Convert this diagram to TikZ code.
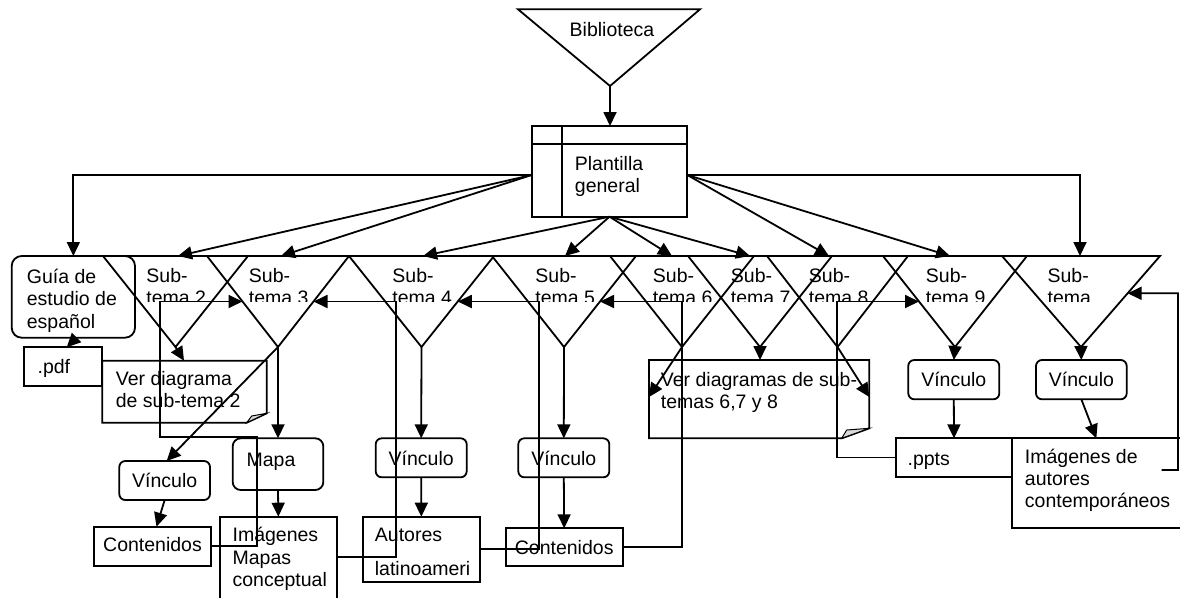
\documentclass[tikz,border=0pt]{standalone}
\usepackage{fontspec}
\setmainfont{Liberation Sans}
\usetikzlibrary{arrows.meta,calc}

% inverted triangle for a sub-topic: name, left corner x, apex x, right corner x
\newcommand\subtri[4]{%
  \coordinate (#1l) at (#2,256);
  \coordinate (#1a) at (#3,347);
  \coordinate (#1r) at (#4,256);
  \draw (#1l) -- (#1r) -- (#1a) -- cycle;
}

\begin{document}
\begin{tikzpicture}[x=1pt,y=-1pt,
  line width=1.8pt,
  arr/.style={-{Triangle[length=14pt,width=13pt]}},
  plainbox/.style={draw, rectangle, anchor=north west, inner sep=0pt, outer sep=0pt},
  hidbox/.style={rectangle, anchor=north west, inner sep=0pt, outer sep=0pt},
  rbox/.style={plainbox, rounded corners=6pt},
  txt/.style={font=\fontsize{19.5}{22}\selectfont, inner sep=0pt, anchor=base west},
  ctxt/.style={txt, anchor=base},
]
\useasboundingbox (0,0) rectangle (1180,597);
\clip (0,0) rectangle (1180,597);
\fill[white] (0,0) rectangle (1180,597);

% ---------- library and template ----------
\coordinate (bibl) at (518,9.3);
\coordinate (bibr) at (700,9.3);
\coordinate (biba) at (610,86);
\draw (bibl) -- (bibr) -- (biba) -- cycle;
\node[ctxt] (bibtxt) at (612,36) {Biblioteca};

\node[plainbox, minimum width=155.6pt, minimum height=90.7pt] (plant) at (531.7,126) {};
\draw ([yshift=-18pt]plant.north west) -- ([yshift=-18pt]plant.north east);
\draw ([xshift=30.6pt]plant.north west) -- ([xshift=30.6pt]plant.south west);
\node[txt] (planta) at (574,170) {Plantilla};
\node[txt] (plantb) at (574,192) {general};
\draw[arr] (biba) -- (biba |- plant.north);

\coordinate (pL) at (531.7,175);
\coordinate (pR) at (687.3,175);

% ---------- study guide ----------
\node[plainbox, rounded corners=10pt, minimum width=123.3pt, minimum height=81.7pt] (guia) at (11.7,256) {};
\node[txt] (guiaa) at (26,283) {Guía de};
\node[txt] (guiab) at (26,305.5) {estudio de};
\node[txt] (guiac) at (26,328) {español};

% ---------- sub-topic triangles ----------
\subtri{t2}{103}{175.5}{248}
\subtri{t3}{207}{278}{349}
\subtri{t4}{349}{421.5}{494}
\subtri{t5}{492}{564}{636}
\subtri{t6}{610}{682}{754}
\subtri{t7}{688}{760}{832}
\subtri{t8}{767}{837.5}{908}
\subtri{t9}{883}{955}{1027}
\subtri{t10}{1002}{1081}{1160}

\begin{scope}
  \clip (0,0) rectangle (1180,301.5);
  \node[txt] (s2a) at (145.5,282) {Sub-};  \node[txt] (s2b) at (145.5,304) {tema 2};
  \node[txt] (s3a) at (248,282) {Sub-};    \node[txt] (s3b) at (248,304) {tema 3};
  \node[txt] (s4a) at (391.5,282) {Sub-};  \node[txt] (s4b) at (391.5,304) {tema 4};
  \node[txt] (s5a) at (534.5,282) {Sub-};  \node[txt] (s5b) at (534.5,304) {tema 5};
  \node[txt] (s6a) at (652,282) {Sub-};    \node[txt] (s6b) at (652,304) {tema 6};
  \node[txt] (s7a) at (730,282) {Sub-};    \node[txt] (s7b) at (730,304) {tema 7};
  \node[txt] (s8a) at (808,282) {Sub-};    \node[txt] (s8b) at (808,304) {tema 8};
  \node[txt] (s9a) at (925,282) {Sub-};    \node[txt] (s9b) at (925,304) {tema 9};
  \node[txt] (s10a) at (1046.7,282) {Sub-}; \node[txt] (s10b) at (1046.7,304) {tema};
\end{scope}

% entry points on the common top edge
\coordinate (in2) at (178,256);
\coordinate (in3) at (281,256);
\coordinate (in4) at (423,256);
\coordinate (in5) at (565,256);
\coordinate (in6) at (672,256);
\coordinate (in7) at (750,256);
\coordinate (in8) at (829,256);
\coordinate (in9) at (950,256);
\coordinate (in10) at (1080,256);

% template fan-out
\draw[arr] (pL) -| (guia.north);
\draw[arr] (pL) -- (in2);
\draw[arr] (pL) -- (in3);
\draw[arr] (plant.south) -- (in4);
\draw[arr] (plant.south) -- (in5);
\draw[arr] (plant.south) -- (in6);
\draw[arr] (plant.south) -- (in7);
\draw[arr] (pR) -- (in8);
\draw[arr] (pR) -- (in9);
\draw[arr] (pR) -| (in10);

% ---------- boxes below ----------
\node[plainbox, minimum width=78pt, minimum height=38.4pt] (pdf) at (24.3,347.3) {};
\node[txt] (pdftxt) at (36.7,373.5) {.pdf};

\node[hidbox, minimum width=164.4pt, minimum height=62pt] (ver2) at (102.3,360.7) {};
\draw (ver2.north west) -- (ver2.north east) -- ([yshift=9.4pt]ver2.south east)
  -- ([xshift=-20pt]ver2.south east) -- (ver2.south west) -- cycle;
\filldraw[fill=gray!30, line width=1pt] ([xshift=-20pt]ver2.south east)
  -- ([xshift=-15pt,yshift=6.7pt]ver2.south east) -- ([yshift=9.4pt]ver2.south east) -- cycle;
\node[txt] (ver2a) at (115,385) {Ver diagrama};
\node[txt] (ver2b) at (115,407) {de sub-tema 2};

\node[rbox, rounded corners=8pt, minimum width=90.6pt, minimum height=51.7pt] (mapa) at (232.7,438.3) {};
\node[txt] (mapatxt) at (245.7,466) {Mapa};

\node[rbox, minimum width=90.7pt, minimum height=39pt] (vinA) at (119.3,461) {};
\node[ctxt] (vinAtxt) at (164.7,487) {Vínculo};

\node[plainbox, minimum width=117pt, minimum height=39pt] (contA) at (94,526.7) {};
\node[ctxt] (contAtxt) at (152.5,551.7) {Contenidos};

\node[plainbox, minimum width=116.7pt, minimum height=100pt] (imgA) at (220,516.7) {};
\node[txt] (imgAa) at (231.7,541.7) {Imágenes};
\node[txt] (imgAb) at (231.7,564) {Mapas};
\node[txt] (imgAc) at (231.7,586) {conceptual};

\node[rbox, minimum width=91pt, minimum height=39pt] (vinB) at (375.7,438.3) {};
\node[ctxt] (vinBtxt) at (421.2,465) {Vínculo};

\node[plainbox, minimum width=117.3pt, minimum height=65pt] (autores) at (362.7,516.7) {};
\node[txt] (autoresa) at (374,541.7) {Autores};
\node[txt] (autoresb) at (374,575) {latinoameri};

\node[rbox, minimum width=91pt, minimum height=39pt] (vinC) at (518.3,438.3) {};
\node[ctxt] (vinCtxt) at (563.8,465) {Vínculo};

\node[plainbox, minimum width=117pt, minimum height=37.4pt] (contB) at (505.7,528.3) {};
\node[ctxt] (contBtxt) at (564.2,554) {Contenidos};

\node[hidbox, minimum width=220.3pt, minimum height=78.3pt] (ver678) at (649,360) {};
\draw (ver678.north west) -- (ver678.north east) -- ([yshift=10pt]ver678.south east)
  -- ([xshift=-27.6pt]ver678.south east) -- (ver678.south west) -- cycle;
\filldraw[fill=gray!30, line width=1pt] ([xshift=-27.6pt]ver678.south east)
  -- ([xshift=-22.6pt,yshift=8.3pt]ver678.south east) -- ([yshift=10pt]ver678.south east) -- cycle;
\node[txt] (ver678a) at (660,386) {Ver diagramas de sub-};
\node[txt] (ver678b) at (660,408) {temas 6,7 y 8};

\node[rbox, minimum width=91pt, minimum height=39.3pt] (vinD) at (908.3,360) {};
\node[ctxt] (vinDtxt) at (953.8,386.7) {Vínculo};

\node[plainbox, minimum width=116.6pt, minimum height=38.4pt] (ppts) at (895.7,438.3) {};
\node[txt] (pptstxt) at (906.7,465) {.ppts};

\node[rbox, minimum width=90.7pt, minimum height=39.3pt] (vinE) at (1036,360) {};
\node[ctxt] (vinEtxt) at (1081.4,386.7) {Vínculo};

\node[plainbox, minimum width=180pt, minimum height=90pt] (imgB) at (1012.3,438.3) {};
\node[txt] (imgBa) at (1024,463.3) {Imágenes de};
\node[txt] (imgBb) at (1024,485) {autores};
\node[txt] (imgBc) at (1024,507) {contemporáneos};
\coordinate (imgBout) at (1161.7,470);

% ---------- arrows from the sub-topics ----------
\draw[arr] ([xshift=3pt]guia.south) -- ([xshift=3.4pt]pdf.north);
\draw[arr] (t2a) -- (ver2.north -| 184,0);
\draw[arr] (t3a) -- (mapa.north);
\draw[arr] (t3a) -- ([xshift=2pt]vinA.north);
\draw[arr] (vinA.south) -- ([xshift=4pt]contA.north);
\draw[arr] (mapa.south) -- (imgA.north);
\draw[arr] (t4a) -- (vinB.north);
\draw[arr] (vinB.south) -- (autores.north);
\draw[arr] (t5a) -- (vinC.north);
\draw[arr] (vinC.south) -- (contB.north);
\draw[arr] (t6a) -- ([yshift=-37pt]ver678.north west);
\draw[arr] (t7a) -- (ver678.north -| t7a);
\draw[arr] (t8a) -- ([yshift=-37pt]ver678.north east);
\draw[arr] (t9a) -- (vinD.north);
\draw[arr] (vinD.south) -- (ppts.north);
\draw[arr] (t10a) -- (vinE.north);
\draw[arr] (vinE.south) -- ([xshift=15pt]imgB.north -| vinE.south);

% ---------- return links ----------
\draw[arr] (contA.east) -| (257,437) -| (160,301.5) -- ($(t3l)!0.5!(t3a)$);
\draw[arr] ([yshift=-40pt]imgA.north east) -| (396,301.5) -- ($(t3r)!0.5!(t3a)$);
\draw[arr] (autores.east) -| (539,301.5) -- ($(t4r)!0.5!(t4a)$);
\draw[arr] (contB.east) -| (682,301.5) -- ($(t5r)!0.5!(t5a)$);
\draw[arr] (ppts.west) -| (836.7,301.5) -- ($(t9l)!0.5!(t9a)$);
\draw[arr] (imgBout) -| (1178,293.3) -- ($(t10r)!0.41!(t10a)$);
\end{tikzpicture}
\end{document}
